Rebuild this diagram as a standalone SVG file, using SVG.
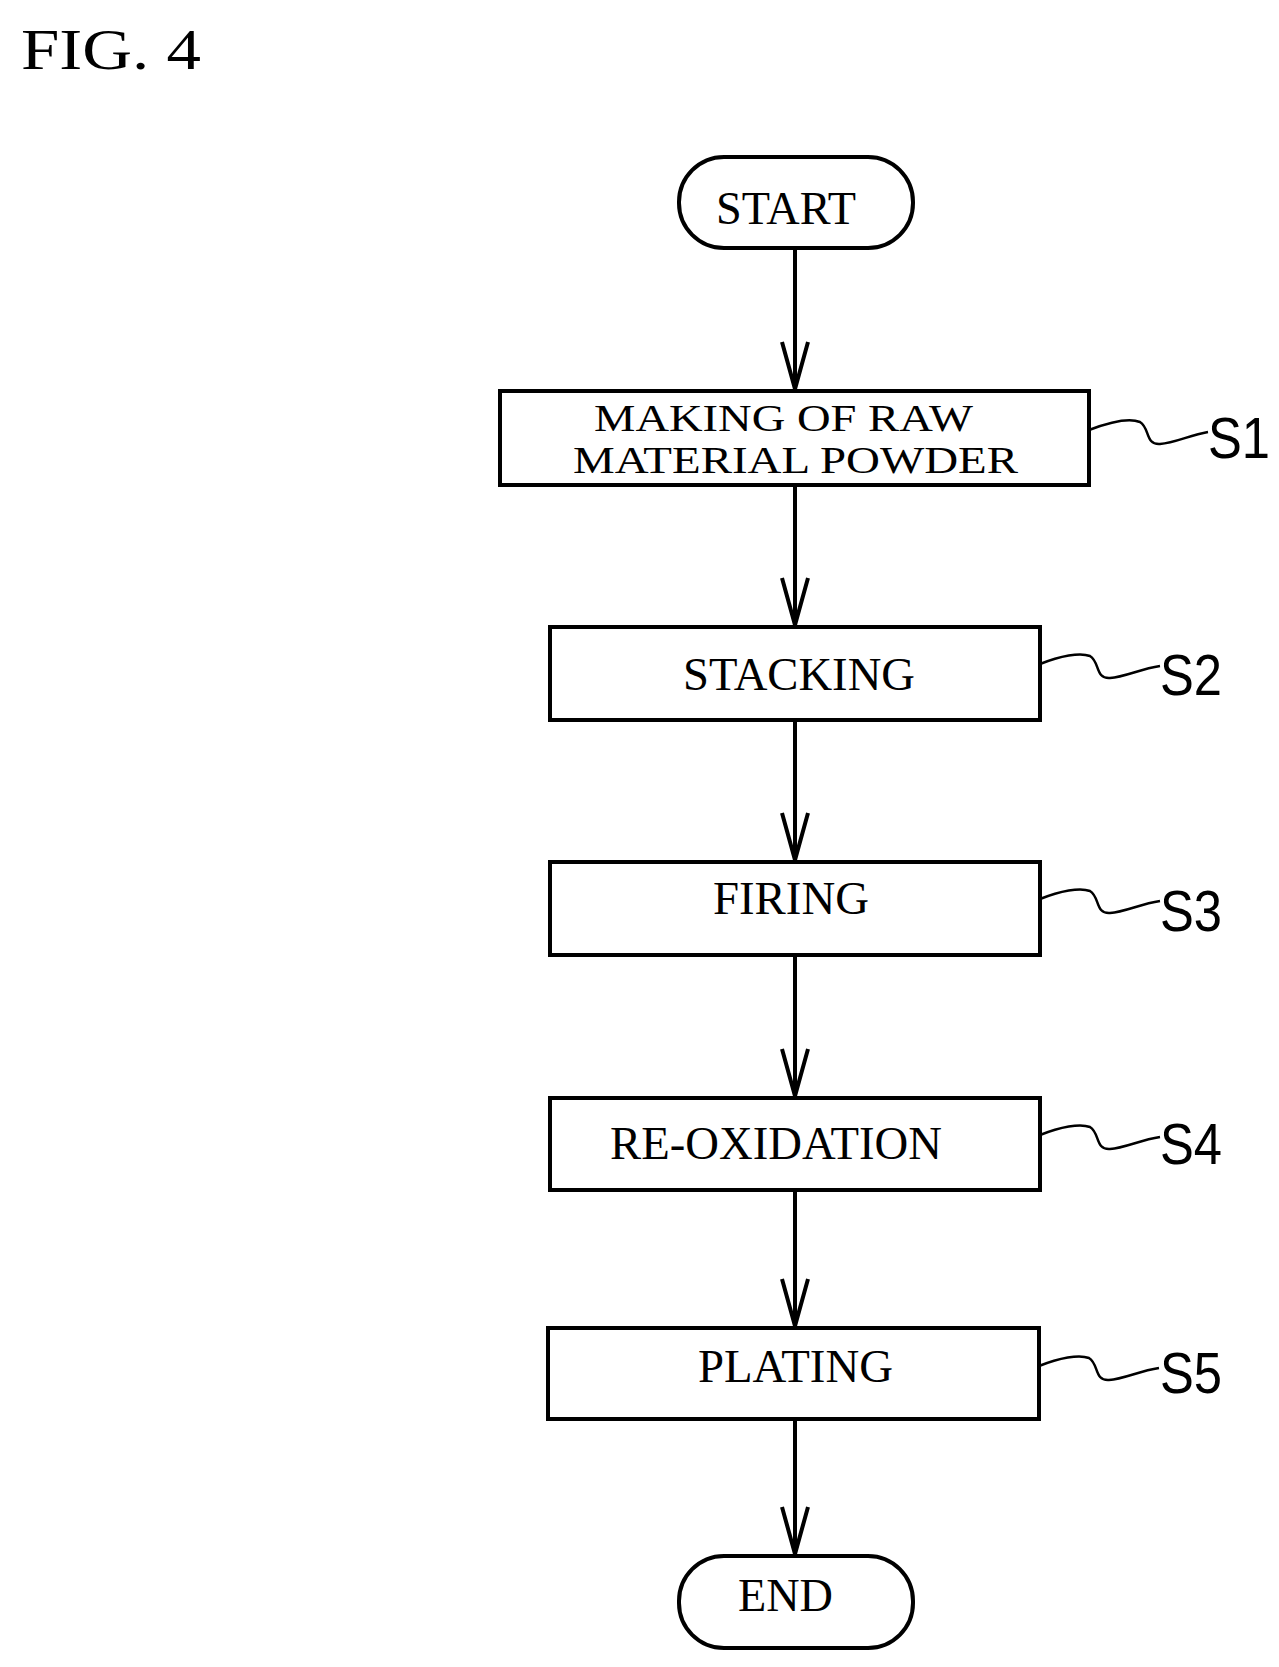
<svg xmlns="http://www.w3.org/2000/svg" width="1279" height="1667" viewBox="0 0 1279 1667">
<style>
.b{fill:#fff;stroke:#000;stroke-width:4}
.t{font-family:"Liberation Serif",serif;font-size:46px;fill:#000}
.t2{font-family:"Liberation Serif",serif;font-size:38px;fill:#000}
.s{font-family:"Liberation Sans Narrow","Liberation Sans",sans-serif;font-size:58px;fill:#000}
.c{fill:none;stroke:#000;stroke-width:4}
.q{fill:none;stroke:#000;stroke-width:2.5}
</style>
<rect width="1279" height="1667" fill="#fff"/>
<text x="21" y="69" font-family="Liberation Serif,serif" font-size="56" textLength="180" lengthAdjust="spacingAndGlyphs">FIG. 4</text>
<g id="connectors">
<path class="c" d="M795,248V389M795,485V625M795,720V860M795,955V1096M795,1190V1326M795,1419V1554"/>
<path class="c" d="M782,342L795,389L808,342M782,578L795,625L808,578M782,813L795,860L808,813M782,1049L795,1096L808,1049M782,1279L795,1326L808,1279M782,1507L795,1554L808,1507"/>
</g>
<g id="start"><rect class="b" x="679" y="157" width="234" height="91" rx="45"/><text class="t" x="716" y="224" textLength="140" lengthAdjust="spacingAndGlyphs">START</text></g>
<g id="s1"><rect class="b" x="500" y="391" width="589" height="94"/><text class="t2" x="594" y="431" textLength="379" lengthAdjust="spacingAndGlyphs">MAKING OF RAW</text><text class="t2" x="573" y="473" textLength="445" lengthAdjust="spacingAndGlyphs">MATERIAL POWDER</text>
<path class="q" d="M1089,430C1110,422 1130,418 1140,422C1150,428 1145,445 1160,444C1175,443 1190,435 1208,432"/><text class="s" x="1208" y="458" textLength="62" lengthAdjust="spacingAndGlyphs">S1</text></g>
<g id="s2"><rect class="b" x="550" y="627" width="490" height="93"/><text class="t" x="683" y="690" textLength="232" lengthAdjust="spacingAndGlyphs">STACKING</text>
<path class="q" d="M1040,664C1060,656 1080,652 1090,656C1100,662 1095,679 1110,678C1125,677 1140,669 1160,666"/><text class="s" x="1160" y="695" textLength="62" lengthAdjust="spacingAndGlyphs">S2</text></g>
<g id="s3"><rect class="b" x="550" y="862" width="490" height="93"/><text class="t" x="713" y="914" textLength="156" lengthAdjust="spacingAndGlyphs">FIRING</text>
<path class="q" d="M1040,899C1060,891 1080,887 1090,891C1100,897 1095,914 1110,913C1125,912 1140,904 1160,901"/><text class="s" x="1160" y="931" textLength="62" lengthAdjust="spacingAndGlyphs">S3</text></g>
<g id="s4"><rect class="b" x="550" y="1098" width="490" height="92"/><text class="t" x="610" y="1159" textLength="332" lengthAdjust="spacingAndGlyphs">RE-OXIDATION</text>
<path class="q" d="M1040,1135C1060,1127 1080,1123 1090,1127C1100,1133 1095,1150 1110,1149C1125,1148 1140,1140 1160,1137"/><text class="s" x="1160" y="1164" textLength="62" lengthAdjust="spacingAndGlyphs">S4</text></g>
<g id="s5"><rect class="b" x="548" y="1328" width="491" height="91"/><text class="t" x="698" y="1382" textLength="195" lengthAdjust="spacingAndGlyphs">PLATING</text>
<path class="q" d="M1039,1366C1059,1358 1079,1354 1089,1358C1099,1364 1094,1381 1109,1380C1124,1379 1139,1371 1159,1368"/><text class="s" x="1160" y="1393" textLength="62" lengthAdjust="spacingAndGlyphs">S5</text></g>
<g id="end"><rect class="b" x="679" y="1556" width="234" height="92" rx="45"/><text class="t" x="738" y="1611" textLength="95" lengthAdjust="spacingAndGlyphs">END</text></g>
</svg>
